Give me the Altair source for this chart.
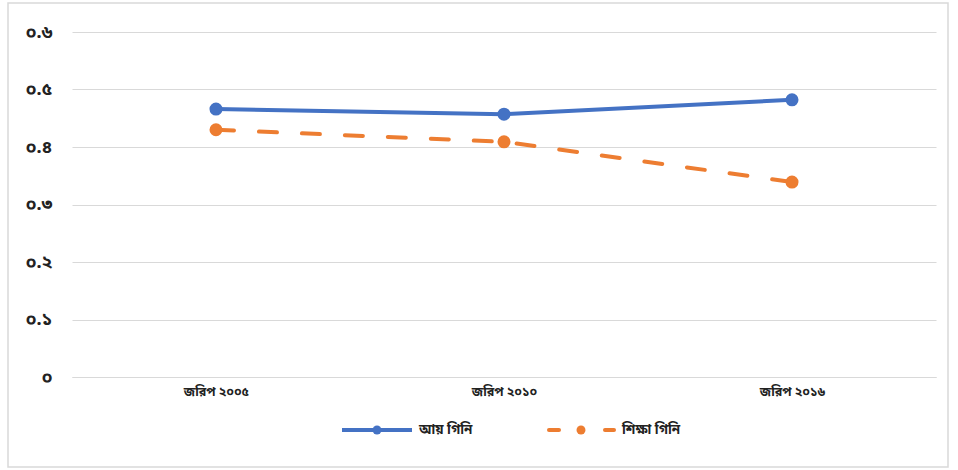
import altair as alt
import pandas as pd

# Survey rounds and Gini coefficients
surveys = ["জরিপ ২০০৫", "জরিপ ২০১০", "জরিপ ২০১৬"]
income_gini = [0.466, 0.457, 0.482]
education_gini = [0.430, 0.409, 0.339]

series_names = ["আয় গিনি", "শিক্ষা গিনি"]
series_colors = ["#4472C4", "#ED7D31"]

y_ticks = [0, 0.1, 0.2, 0.3, 0.4, 0.5, 0.6]
y_tick_labels = ["০", "০.১", "০.২", "০.৩", "০.৪", "০.৫", "০.৬"]

FONT = "Noto Sans Bengali, Noto Sans, sans-serif"

df = pd.DataFrame({
    "survey": surveys * 2,
    "gini": income_gini + education_gini,
    "series": [series_names[0]] * 3 + [series_names[1]] * 3,
})

label_expr = "[" + ",".join(f"'{t}'" for t in y_tick_labels) + "][round(datum.value*10)]"

x_enc = alt.X(
    "survey:N", sort=surveys, title=None,
    scale=alt.Scale(type="point", padding=0.5),
    axis=alt.Axis(labelAngle=0, ticks=False, domainColor="#d9d9d9",
                  labelFont=FONT, labelFontSize=12.5, labelFontWeight="bold",
                  labelColor="#222222", labelPadding=8),
)
y_enc = alt.Y(
    "gini:Q", title=None,
    scale=alt.Scale(domain=[0, 0.6]),
    axis=alt.Axis(values=y_ticks, labelExpr=label_expr, ticks=False, domain=False,
                  gridColor="#d9d9d9", labelFont=FONT, labelFontSize=18,
                  labelFontWeight="bold", labelColor="#222222", labelPadding=20),
)
color_enc = alt.Color("series:N", scale=alt.Scale(domain=series_names, range=series_colors), legend=None)

base = alt.Chart(df)

income_line = base.transform_filter(alt.datum.series == series_names[0]).mark_line(
    strokeWidth=4, color=series_colors[0]
).encode(x=x_enc, y=y_enc)

edu_line = base.transform_filter(alt.datum.series == series_names[1]).mark_line(
    strokeWidth=4, color=series_colors[1], strokeDash=[18, 25], strokeCap="round"
).encode(x=x_enc, y=y_enc)

points = base.mark_circle(size=170, opacity=1).encode(x=x_enc, y=y_enc, color=color_enc)

# Frame around the whole chart
one = pd.DataFrame({"k": [0]})
frame = alt.Chart(one).mark_rect(fill=None, stroke="#d9d9d9", strokeWidth=1.5).encode(
    x=alt.value(-64), x2=alt.value(876), y=alt.value(-29), y2=alt.value(435)
)

# Legend drawn below the plot
leg_y = 398
leg_income_line = alt.Chart(one).mark_rule(strokeWidth=4, color=series_colors[0]).encode(
    x=alt.value(270), x2=alt.value(340), y=alt.value(leg_y)
)
leg_income_pt = alt.Chart(one).mark_circle(size=80, opacity=1, color=series_colors[0]).encode(
    x=alt.value(305), y=alt.value(leg_y)
)
leg_income_txt = alt.Chart(one).mark_text(
    align="left", baseline="middle", font=FONT, fontSize=13.5, fontWeight="bold", color="#222222"
).encode(x=alt.value(347), y=alt.value(leg_y), text=alt.value(series_names[0]))

leg_edu_dash1 = alt.Chart(one).mark_rule(strokeWidth=4, color=series_colors[1], strokeCap="round").encode(
    x=alt.value(477), x2=alt.value(487), y=alt.value(leg_y)
)
leg_edu_dash2 = alt.Chart(one).mark_rule(strokeWidth=4, color=series_colors[1], strokeCap="round").encode(
    x=alt.value(533), x2=alt.value(542), y=alt.value(leg_y)
)
leg_edu_pt = alt.Chart(one).mark_circle(size=80, opacity=1, color=series_colors[1]).encode(
    x=alt.value(509), y=alt.value(leg_y)
)
leg_edu_txt = alt.Chart(one).mark_text(
    align="left", baseline="middle", font=FONT, fontSize=13.5, fontWeight="bold", color="#222222"
).encode(x=alt.value(550), y=alt.value(leg_y), text=alt.value(series_names[1]))

chart = alt.layer(
    frame, income_line, edu_line, points,
    leg_income_line, leg_income_pt, leg_income_txt,
    leg_edu_dash1, leg_edu_dash2, leg_edu_pt, leg_edu_txt,
).properties(
    width=864, height=345,
    autosize=alt.AutoSizeParams(type="none"),
    padding={"left": 72, "top": 32, "right": 22, "bottom": 93},
    background="white",
).configure_view(stroke=None)

chart.save("out.html", embed_options={"renderer": "svg", "actions": False})
